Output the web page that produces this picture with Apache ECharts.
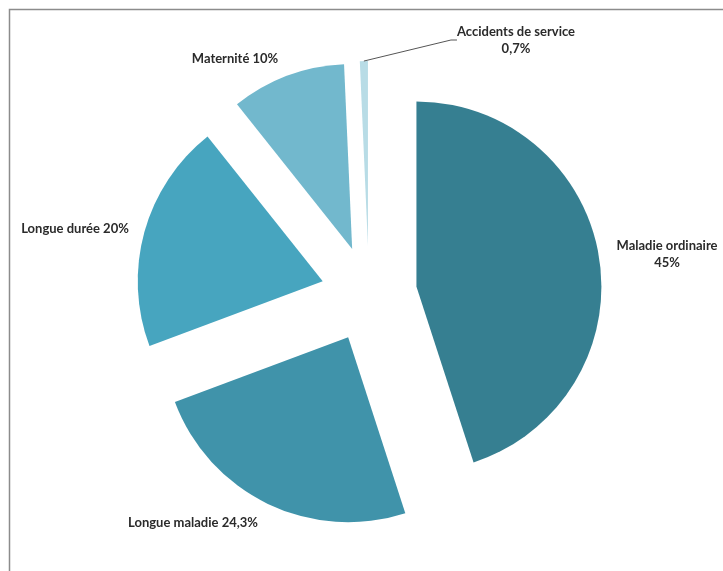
<!DOCTYPE html>
<html>
<head>
<meta charset="utf-8">
<script src="https://cdn.jsdelivr.net/npm/echarts@6/dist/echarts.min.js"></script>
<style>
  html, body { margin: 0; padding: 0; background: #fff; }
  #chart { width: 723px; height: 571px; }
</style>
</head>
<body>
<div id="chart"></div>
<script>
var categories = ['Maladie ordinaire', 'Longue maladie', 'Longue durée', 'Maternité', 'Accidents de service'];
var values = [45, 24.3, 20, 10, 0.7];

// look of each slice / label (not data)
var colors = ['#367f91', '#4093aa', '#47a5bf', '#72b8cd', '#b8dce6'];
var twoLines = [true, false, false, false, true];
var labelPos = [[667, 254], [193, 523], [75, 229], [235, 59], [516, 40]];

var myChart = echarts.init(document.getElementById('chart'));

function fmt(p) {
    var v = String(p.value).replace('.', ',') + '%';
    return twoLines[p.dataIndex] ? p.name + '\n' + v : p.name + ' ' + v;
}

var option = {
    animation: false,
    graphic: [{
        type: 'rect',
        shape: { x: 9.5, y: 9.5, width: 800, height: 700 },
        style: { fill: 'none', stroke: '#8c8c8c', lineWidth: 1.5 },
        silent: true
    }],
    series: [{
        // exploded slices
        type: 'pie',
        center: [369, 294],
        radius: 185,
        startAngle: 90,
        clockwise: true,
        selectedMode: 'multiple',
        selectedOffset: 48,
        emphasis: { disabled: true },
        silent: true,
        itemStyle: { borderWidth: 0 },
        label: { show: false },
        labelLine: { show: false },
        data: categories.map(function (name, i) {
            return { name: name, value: values[i], selected: true, itemStyle: { color: colors[i] } };
        })
    }, {
        // invisible ring that only carries the labels
        type: 'pie',
        center: [369, 294],
        radius: 233,
        startAngle: 90,
        clockwise: true,
        emphasis: { disabled: true },
        silent: true,
        z: 3,
        itemStyle: { color: 'rgba(0,0,0,0)', borderWidth: 0 },
        label: {
            show: true,
            color: '#2b2b2b',
            fontFamily: 'Lato',
            fontWeight: 'bold',
            fontSize: 13,
            lineHeight: 17,
            align: 'center',
            overflow: 'none',
            formatter: fmt
        },
        labelLine: { show: false },
        labelLayout: function (p) {
            var pos = labelPos[p.dataIndex];
            return { x: pos[0], y: pos[1], align: 'center', verticalAlign: 'middle' };
        },
        data: categories.map(function (name, i) {
            var item = { name: name, value: values[i] };
            if (i === 4) {
                item.labelLine = { show: true, length: 10, length2: 6, lineStyle: { color: '#555', width: 1 } };
            }
            return item;
        })
    }]
};

myChart.setOption(option);
</script>
</body>
</html>
